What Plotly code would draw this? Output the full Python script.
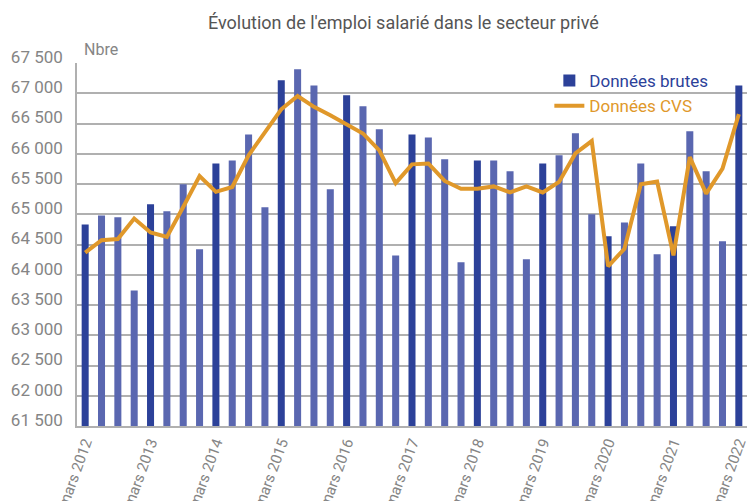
#!/usr/bin/env python3
"""Évolution de l'emploi salarié dans le secteur privé - bars + CVS line."""

import plotly.graph_objects as go

MONTHS = ["mars", "juin", "sept.", "déc."]
YEARS = list(range(2012, 2023))

# quarterly labels, mars 2012 -> mars 2022
periods = [f"{m} {y}" for y in YEARS for m in MONTHS][:41]

donnees_brutes = [
    64830, 64980, 64950, 63740,
    65165, 65050, 65495, 64420,
    65840, 65890, 66320, 65115,
    67215, 67395, 67130, 65415,
    66965, 66785, 66405, 64320,
    66320, 66270, 65910, 64205,
    65890, 65890, 65710, 64255,
    65840, 65975, 66340, 65000,
    64635, 64865, 65840, 64340,
    64800, 66370, 65710, 64555,
    67130,
]

donnees_cvs = [
    64365, 64570, 64590, 64930,
    64700, 64625, 65120, 65630,
    65370, 65450, 65975, 66360,
    66735, 66955, 66775, 66635,
    66490, 66335, 66055, 65515,
    65825, 65840, 65550, 65420,
    65420, 65460, 65360, 65460,
    65360, 65535, 66005, 66210,
    64140, 64430, 65495, 65540,
    64320, 65945, 65340, 65755,
    66655,
]

y_ticks = list(range(61500, 67501, 500))
y_ticktext = [f"{v:,}".replace(",", " ") for v in y_ticks]

FONT = "Roboto, Liberation Sans, sans-serif"
DARK_BLUE = "#2c4199"
LIGHT_BLUE = "#5a67b0"
ORANGE = "#e0982a"
GRID = "#b0b0b0"
TEXT_GREY = "#858585"

bar_colors = [DARK_BLUE if p.startswith("mars") else LIGHT_BLUE for p in periods]
year_ticks = [p for p in periods if p.startswith("mars")]

fig = go.Figure()

fig.add_trace(
    go.Bar(
        x=periods,
        y=donnees_brutes,
        name=f'<span style="color:{DARK_BLUE}">Données brutes</span>',
        marker=dict(color=bar_colors, line=dict(width=0)),
    )
)

fig.add_trace(
    go.Scatter(
        x=periods,
        y=donnees_cvs,
        mode="lines",
        name=f'<span style="color:{ORANGE}">Données CVS</span>',
        line=dict(color=ORANGE, width=4),
    )
)

fig.update_layout(
    width=747,
    height=501,
    paper_bgcolor="white",
    plot_bgcolor="white",
    bargap=0.57,
    margin=dict(l=77, r=0, t=63, b=75, autoexpand=False),
    font=dict(family=FONT, color=TEXT_GREY),
    title=dict(
        text="Évolution de l'emploi salarié dans le secteur privé",
        x=0.54,
        xanchor="center",
        y=0.955,
        yanchor="middle",
        font=dict(family=FONT, size=18, color="#555555"),
    ),
    showlegend=True,
    legend=dict(
        x=0.705,
        y=1.0,
        xanchor="left",
        yanchor="top",
        bgcolor="rgba(0,0,0,0)",
        font=dict(family=FONT, size=17),
        itemwidth=30,
        tracegroupgap=0,
    ),
    annotations=[
        dict(
            text="Nbre",
            xref="paper",
            yref="paper",
            x=0.008,
            y=1.0,
            xanchor="left",
            yanchor="bottom",
            yshift=2,
            showarrow=False,
            font=dict(family=FONT, size=16, color=TEXT_GREY),
        )
    ],
)

fig.update_xaxes(
    type="category",
    tickmode="array",
    tickvals=year_ticks,
    ticktext=year_ticks,
    tickangle=-70,
    tickfont=dict(family=FONT, size=15, color=TEXT_GREY),
    automargin=False,
    showgrid=False,
    showline=True,
    linecolor=GRID,
    linewidth=2,
    ticks="",
)

fig.update_yaxes(
    range=[61500, 67500],
    tickmode="array",
    tickvals=y_ticks,
    ticktext=y_ticktext,
    tickfont=dict(family=FONT, size=17, color=TEXT_GREY),
    ticklabelshift=-6,
    ticklabelstandoff=9,
    automargin=False,
    showgrid=True,
    gridcolor=GRID,
    gridwidth=1.5,
    showline=True,
    linecolor=GRID,
    linewidth=1.5,
    zeroline=False,
    ticks="",
)

# drop the default 8px page margin so the figure sits at the window corner
fig.write_html(
    "out.html",
    config={"displayModeBar": False},
    post_script="document.body.style.margin='0';",
)
